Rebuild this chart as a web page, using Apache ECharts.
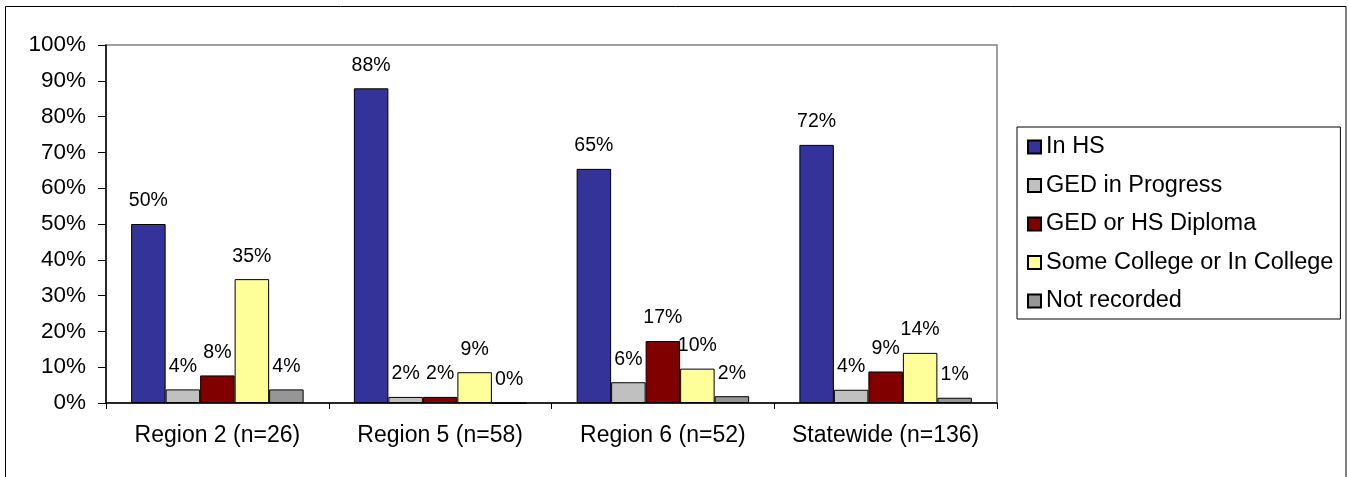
<!DOCTYPE html>
<html lang="en">

<head>
    <meta charset="UTF-8">
    <title>Status by region</title>
    <style>
        html, body {
            margin: 0;
            padding: 0;
            background: #fff;
        }
        #box {
            width: 1348px;
            height: 477px;
        }
    </style>
    <script src="https://cdn.jsdelivr.net/npm/echarts@6/dist/echarts.min.js"></script>
</head>

<body>
    <div id="box"></div>
    <script>
        const categories = ['Region 2 (n=26)', 'Region 5 (n=58)', 'Region 6 (n=52)', 'Statewide (n=136)']
        const seriesNames = ['In HS', 'GED in Progress', 'GED or HS Diploma', 'Some College or In College', 'Not recorded']
        const inHS = [50, 87.9, 65.4, 72.1]
        const gedProgress = [3.8, 1.7, 5.8, 3.7]
        const gedDiploma = [7.7, 1.7, 17.3, 8.8]
        const college = [34.6, 8.6, 9.6, 14.0]
        const notRecorded = [3.8, 0, 1.9, 1.47]
        const yTicks = [0, 10, 20, 30, 40, 50, 60, 70, 80, 90, 100]
        const colors = ['#333399', '#C0C0C0', '#800000', '#FFFF99', '#969696']

        const font = 'Liberation Sans, Arial, sans-serif'
        const allData = [inHS, gedProgress, gedDiploma, college, notRecorded]

        const myChart = echarts.init(document.querySelector('#box'))

        const series = allData.map(function (vals, i) {
            return {
                name: seriesNames[i],
                type: 'bar',
                data: vals,
                barWidth: 34.5,
                barGap: '0%',
                itemStyle: {
                    color: colors[i],
                    borderColor: '#000',
                    borderWidth: 1
                },
                label: {
                    show: true,
                    position: 'top',
                    distance: 13,
                    color: '#000',
                    fontFamily: font,
                    fontSize: 19.5,
                    formatter: function (p) {
                        return Math.round(p.value) + '%'
                    }
                },
                emphasis: { disabled: true }
            }
        })

        const option = {
            animation: false,
            textStyle: { fontFamily: font },
            // outer frame of the chart area
            graphic: [{
                type: 'rect',
                shape: { x: 5.5, y: 6.5, width: 1340.5, height: 520 },
                style: { fill: 'none', stroke: '#000', lineWidth: 1 },
                silent: true
            }],
            grid: {
                left: 106,
                top: 45,
                right: 351,
                bottom: 74,
                show: true,
                borderColor: '#808080',
                borderWidth: 1.5
            },
            legend: {
                orient: 'vertical',
                left: 1017,
                top: 127,
                padding: [8, 7, 6, 10],
                borderColor: '#000',
                borderWidth: 1,
                icon: 'rect',
                itemWidth: 13,
                itemHeight: 13,
                itemGap: 14.5,
                selectedMode: false,
                textStyle: {
                    fontFamily: font,
                    fontSize: 23.5,
                    lineHeight: 23,
                    color: '#000'
                },
                data: seriesNames
            },
            xAxis: {
                type: 'category',
                data: categories,
                axisLine: { lineStyle: { color: '#000', width: 1.5 } },
                axisTick: { show: true, length: 6, lineStyle: { color: '#000' } },
                axisLabel: {
                    interval: 0,
                    color: '#000',
                    fontFamily: font,
                    fontSize: 23,
                    margin: 21
                }
            },
            yAxis: {
                type: 'value',
                min: yTicks[0],
                max: yTicks[yTicks.length - 1],
                interval: 10,
                splitLine: { show: false },
                axisLine: { show: true, lineStyle: { color: '#000', width: 1.5 } },
                axisTick: { show: true, length: 8, lineStyle: { color: '#000' } },
                axisLabel: {
                    color: '#000',
                    fontFamily: font,
                    fontSize: 22.5,
                    margin: 20,
                    formatter: '{value}%'
                }
            },
            series: series
        }

        myChart.setOption(option)
    </script>
</body>

</html>
